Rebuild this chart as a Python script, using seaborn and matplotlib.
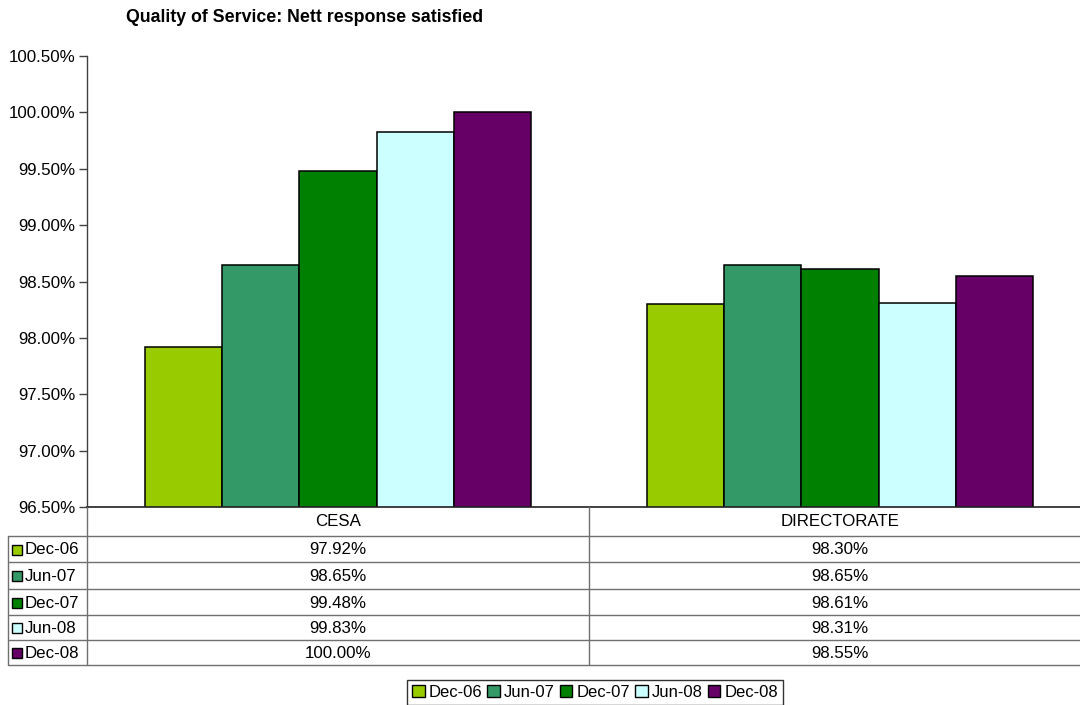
import matplotlib
matplotlib.use("Agg")
import matplotlib.pyplot as plt
import matplotlib.transforms as mtransforms
from matplotlib.lines import Line2D
from matplotlib.patches import Patch, Rectangle
from matplotlib.ticker import FuncFormatter, MultipleLocator
import seaborn as sns
import pandas as pd

# ---- data ----
categories = ["CESA", "DIRECTORATE"]
periods = ["Dec-06", "Jun-07", "Dec-07", "Jun-08", "Dec-08"]
cesa_values = [97.92, 98.65, 99.48, 99.83, 100.00]
directorate_values = [98.30, 98.65, 98.61, 98.31, 98.55]
colors = ["#99CC00", "#339966", "#008000", "#CCFFFF", "#660066"]
title = "Quality of Service: Nett response satisfied"

series = {"CESA": cesa_values, "DIRECTORATE": directorate_values}
rows = []
for cat in categories:
    for p, v in zip(periods, series[cat]):
        rows.append({"category": cat, "period": p, "value": v})
df = pd.DataFrame(rows)

sns.set_theme(style="white")
plt.rcParams["font.family"] = ["Liberation Sans", "DejaVu Sans"]

FS = 12.2
W, H = 1080, 705
fig = plt.figure(figsize=(W / 100, H / 100), dpi=100)
fig.patch.set_facecolor("white")

left, right, top, bottom = 87, 1091, 56, 507
ax = fig.add_axes([left / W, 1 - bottom / H, (right - left) / W, (bottom - top) / H])

sns.barplot(data=df, x="category", y="value", hue="period", order=categories,
            hue_order=periods, palette=colors, saturation=1, edgecolor="black",
            linewidth=1.1, width=0.77, ax=ax, legend=False, errorbar=None)

ax.set_ylim(96.5, 100.5)
ax.set_xlim(-0.5, 1.5)
ax.yaxis.set_major_locator(MultipleLocator(0.5))
ax.yaxis.set_major_formatter(FuncFormatter(lambda v, _: f"{v:.2f}%"))
ax.tick_params(axis="y", which="major", left=True, length=6, width=1,
               color="#404040", labelsize=FS, pad=2.5, labelcolor="black")
ax.tick_params(axis="x", bottom=False, labelbottom=False)
ax.set_xlabel("")
ax.set_ylabel("")
for s in ["top", "right"]:
    ax.spines[s].set_visible(False)
ax.spines["left"].set_color("#404040")
ax.spines["bottom"].set_color("#202020")
ax.spines["left"].set_linewidth(1)
ax.spines["bottom"].set_linewidth(1.2)

fig.text(126 / W, 1 - 18 / H, title, fontsize=12.8, fontweight="bold",
         ha="left", va="center", color="black")

# ---- data table ----
pix = mtransforms.Affine2D().scale(1 / W, -1 / H).translate(0, 1) + fig.transFigure
blend = mtransforms.blended_transform_factory(ax.transData, pix)
xfig_ypix = mtransforms.blended_transform_factory(fig.transFigure, pix)
grid_color = "#707070"
row_edges = [536, 562, 589, 615, 640, 665]
header_mid = (bottom + row_edges[0]) / 2

def hline(y, x0, x1):
    fig.add_artist(Line2D([x0, x1], [y, y], transform=pix, color=grid_color, lw=1))

def vline(x, y0, y1):
    fig.add_artist(Line2D([x, x], [y0, y1], transform=pix, color=grid_color, lw=1))

for y in row_edges:
    hline(y, 8, W + 20)
vline(8, row_edges[0], row_edges[-1])
vline(left, bottom, row_edges[-1])
vline(589, bottom, row_edges[-1])

for i, cat in enumerate(categories):
    fig.text(i, header_mid, cat, transform=blend, ha="center", va="center",
             fontsize=FS, color="black")
    for j, v in enumerate(series[cat]):
        ymid = (row_edges[j] + row_edges[j + 1]) / 2
        fig.text(i, ymid + 1, f"{v:.2f}%", transform=blend, ha="center",
                 va="center", fontsize=FS, color="black")

for j, (p, c) in enumerate(zip(periods, colors)):
    ymid = (row_edges[j] + row_edges[j + 1]) / 2
    fig.add_artist(Rectangle((12, ymid - 4.5), 10, 10, transform=pix, facecolor=c,
                             edgecolor="black", lw=1))
    fig.text(25 / W, ymid + 1, p, transform=xfig_ypix, ha="left", va="center",
             fontsize=FS, color="black")

# ---- legend ----
handles = [Patch(facecolor=c, edgecolor="black", linewidth=1, label=p)
           for p, c in zip(periods, colors)]
leg = fig.legend(handles=handles, loc="upper center", ncol=5,
                 bbox_to_anchor=(595 / W, 1 - 680 / H), frameon=True, fancybox=False,
                 fontsize=12, labelcolor="black", handlelength=0.75, handleheight=0.75,
                 handletextpad=0.25, columnspacing=0.3, borderpad=0.3,
                 borderaxespad=0)
leg.get_frame().set_edgecolor("black")
leg.get_frame().set_linewidth(1)

fig.savefig("out.png", dpi=100, facecolor="white")
